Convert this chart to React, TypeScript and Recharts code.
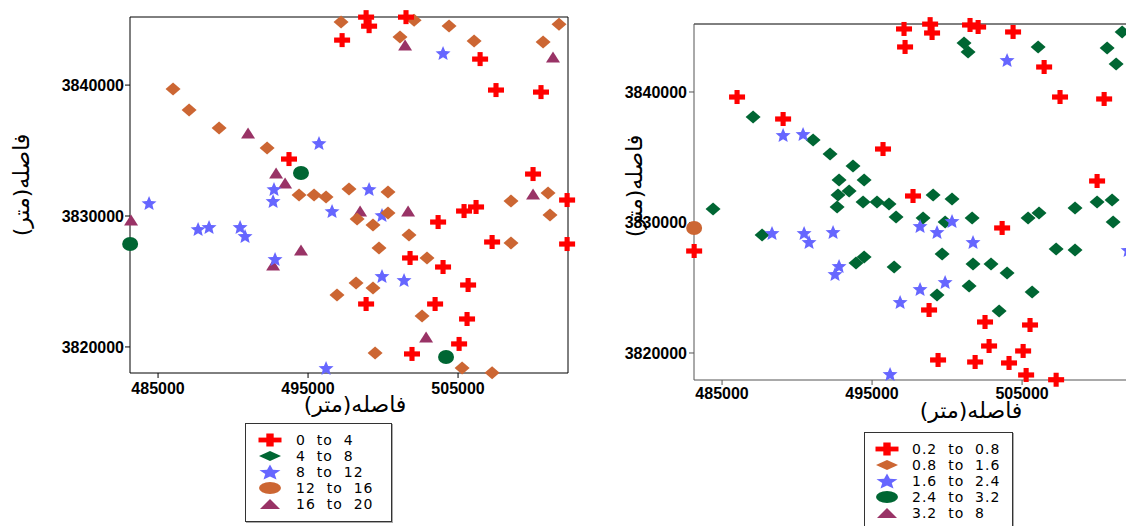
import React from "react"
import { ScatterChart, Scatter, XAxis, YAxis } from "recharts"

type P = [number, number]
const toPts = (a: P[]) => a.map(([x, y]) => ({ x, y }))

// ---- left map (classes 0..20) ----
const LEFT_RED: P[] = [
  [497270, 3843435], [498870, 3845190], [499070, 3844500], [501530, 3845190], [506470, 3841985],
  [507530, 3839620], [510530, 3839465], [510000, 3833205], [512270, 3831220], [505400, 3830380],
  [506200, 3830690], [493730, 3834350], [503670, 3829540], [507270, 3828015], [512270, 3827860],
  [501800, 3826795], [504000, 3826105], [505670, 3824730], [498870, 3823280], [503470, 3823280],
  [505600, 3822135], [505070, 3820230], [501930, 3819465],
]
const LEFT_ORANGE: P[] = [
  [486000, 3839695], [487070, 3838090], [489070, 3836715], [492270, 3835190], [494400, 3831605],
  [495400, 3831605], [496200, 3831450], [497200, 3844810], [497730, 3832060], [500330, 3831830],
  [502070, 3844960], [504400, 3844505], [501130, 3843665], [506070, 3843360], [511730, 3844655],
  [510670, 3843285], [508530, 3831145], [511000, 3831755], [511130, 3830075], [498270, 3829770],
  [499330, 3829310], [500330, 3830230], [501730, 3828550], [499730, 3827555], [502930, 3826795],
  [498200, 3824885], [499330, 3824505], [496930, 3823970], [502600, 3822365], [499470, 3819540],
  [505270, 3818395], [507270, 3818020], [508530, 3827940],
]
const LEFT_BLUE: P[] = [
  [484400, 3830990], [492730, 3832060], [492670, 3831145], [504000, 3842445], [495730, 3835570],
  [499070, 3832060], [496600, 3830380], [499930, 3830075], [487670, 3829005], [488400, 3829160],
  [490470, 3829160], [490800, 3828475], [492800, 3826715], [499930, 3825420], [501400, 3825115],
  [496200, 3818395],
]
const LEFT_PURPLE: P[] = [
  [491000, 3836335], [492870, 3833280], [493470, 3832520], [501470, 3843055], [511330, 3842140],
  [498470, 3830380], [501670, 3830380], [510000, 3831680], [483200, 3829695], [492670, 3826260],
  [494530, 3827405], [502870, 3820760],
]
const LEFT_GREEN: P[] = [[494530, 3833280], [483140, 3827860], [504200, 3819235]]

// ---- right map (classes 0.2..8) ----
const RIGHT_RED: P[] = [
  [486000, 3839615], [489070, 3837930], [497130, 3844830], [497200, 3843450], [498870, 3845200],
  [499000, 3844520], [501530, 3845135], [502070, 3844980], [504400, 3844600], [506470, 3841915],
  [507530, 3839615], [510470, 3839465], [495730, 3835630], [510000, 3833180], [497730, 3832030],
  [483140, 3827815], [503670, 3829580], [498800, 3823295], [502530, 3822375], [505530, 3822145],
  [502800, 3820535], [505070, 3820155], [499400, 3819465], [501870, 3819310], [504130, 3819235],
  [505270, 3818315], [507270, 3817950],
]
const RIGHT_GREEN: P[] = [
  [487070, 3838085], [491070, 3836320], [492200, 3835250], [493730, 3834330], [492800, 3833255],
  [494470, 3833255], [493470, 3832415], [492730, 3832105], [492670, 3831190], [494400, 3831570],
  [484400, 3831035], [501130, 3843755], [501400, 3843065], [506070, 3843450], [510670, 3843370],
  [511270, 3842145], [511670, 3844600], [495330, 3831570], [496130, 3831415], [499070, 3832105],
  [500330, 3831800], [508530, 3831110], [510000, 3831570], [511000, 3831725], [496600, 3830420],
  [498400, 3830345], [501670, 3830345], [505400, 3830345], [506130, 3830730], [511070, 3830040],
  [487670, 3829040], [493930, 3826895], [494470, 3827355], [499870, 3830040], [496470, 3826590],
  [499670, 3827585], [501730, 3826820], [502930, 3826820], [504000, 3826130], [507270, 3827970],
  [508530, 3827890], [499330, 3824445], [501470, 3825135], [505670, 3824675], [503470, 3823220],
]
const RIGHT_BLUE: P[] = [
  [489070, 3836705], [490400, 3836780], [504000, 3842450], [488330, 3829195], [490470, 3829195],
  [490800, 3828505], [492400, 3829270], [492800, 3826665], [492530, 3826055], [498200, 3829730],
  [499330, 3829270], [500330, 3830115], [501730, 3828505], [498200, 3824905], [499870, 3825440],
  [496870, 3823910], [496200, 3818390], [512070, 3827890],
]
const RIGHT_ORANGE: P[] = [[483140, 3829580]]

const X_TICKS = [485000, 495000, 505000]
const X_MINOR = [485000, 490000, 495000, 500000, 505000, 510000]
const Y_TICKS = [3820000, 3830000, 3840000]
const Y_MINOR = [3820000, 3825000, 3830000, 3835000, 3840000, 3845000]

const LEFT_CLASSES = ["0  to  4", "4  to  8", "8  to  12", "12  to  16", "16  to  20"]
const RIGHT_CLASSES = ["0.2  to  0.8", "0.8  to  1.6", "1.6  to  2.4", "2.4  to  3.2", "3.2  to  8"]
const AXIS_TITLE = "فاصله(متر)"

const RED = "#ff0000"
const GREEN = "#006633"
const ORANGE = "#cc6633"
const BLUE = "#6666ff"
const PURPLE = "#993366"

type S = { cx: number; cy: number; w: number; h: number; fill: string }

const Cross = ({ cx, cy, w, h, fill }: S) => {
  const tv = w * 0.16
  const th = h * 0.185
  return (
    <g fill={fill}>
      <rect x={cx - w / 2} y={cy - th} width={w} height={th * 2} />
      <rect x={cx - tv} y={cy - h / 2} width={tv * 2} height={h} />
    </g>
  )
}
const Diamond = ({ cx, cy, w, h, fill }: S) => (
  <polygon points={`${cx},${cy - h / 2} ${cx + w / 2},${cy} ${cx},${cy + h / 2} ${cx - w / 2},${cy}`} fill={fill} />
)
const Star = ({ cx, cy, w, h, fill }: S) => {
  const sx = w / 1.902
  const sy = h / 1.809
  const oy = cy + 0.095 * sy
  const pts: string[] = []
  for (let i = 0; i < 10; i++) {
    const r = i % 2 ? 0.45 : 1
    const a = ((-90 + i * 36) * Math.PI) / 180
    pts.push(`${cx + Math.cos(a) * r * sx},${oy + Math.sin(a) * r * sy}`)
  }
  return <polygon points={pts.join(" ")} fill={fill} />
}
const Tri = ({ cx, cy, w, h, fill }: S) => (
  <polygon points={`${cx - w / 2},${cy + h / 2} ${cx + w / 2},${cy + h / 2} ${cx},${cy - h / 2}`} fill={fill} />
)
const Oval = ({ cx, cy, w, h, fill }: S) => <ellipse cx={cx} cy={cy} rx={w / 2} ry={h / 2} fill={fill} />

const mark = (C: (s: S) => JSX.Element, fill: string, w: number, h: number) => (p: any) => (
  <C cx={p.cx} cy={p.cy} w={w} h={h} fill={fill} />
)

const tickFont = { fill: "#000", fontSize: 16, fontWeight: 700, fontFamily: "Liberation Sans, Arial, sans-serif" }

const xTitle = (dx: number, dy: number) => (p: any) => {
  const vb = p.viewBox
  return (
    <text x={vb.x + vb.width / 2 + dx} y={vb.y + dy} textAnchor="middle" direction="rtl"
      fontSize={22} fontFamily="DejaVu Sans" fill="#000">{AXIS_TITLE}</text>
  )
}
const yTitle = (dx: number, dy: number) => (p: any) => {
  const vb = p.viewBox
  const cx = vb.x + dx
  const cy = vb.y + vb.height / 2 + dy
  return (
    <text x={cx} y={cy} transform={`rotate(-90 ${cx} ${cy})`} textAnchor="middle" direction="rtl"
      fontSize={22} fontFamily="DejaVu Sans" fill="#000">{AXIS_TITLE}</text>
  )
}

function LeftMap() {
  const xd: [number, number] = [483130, 512330]
  const yd: [number, number] = [3818010, 3845200]
  return (
    <ScatterChart width={600} height={420} margin={{ top: 16, right: 31, bottom: 7, left: 30 }}>
      <XAxis xAxisId="b" type="number" dataKey="x" domain={xd} ticks={X_TICKS} interval={0}
        height={40} tickSize={5} tickMargin={5} tick={tickFont} stroke="#000" label={xTitle(6, 39)} />
      <XAxis xAxisId="t" orientation="top" type="number" dataKey="x" domain={xd} ticks={X_MINOR} interval={0}
        height={1} tickSize={4} tick={false} stroke="#000" />
      <YAxis yAxisId="l" type="number" dataKey="y" domain={yd} ticks={Y_TICKS} interval={0}
        width={100} tickSize={5} tickMargin={1} tick={tickFont} stroke="#000" label={yTitle(-1, -10)} />
      <YAxis yAxisId="r" orientation="right" type="number" dataKey="y" domain={yd} ticks={Y_MINOR} interval={0}
        width={1} tickSize={5} tick={false} stroke="#000" />
      <Scatter xAxisId="b" yAxisId="l" data={toPts(LEFT_PURPLE)} shape={mark(Tri, PURPLE, 14, 11)} isAnimationActive={false} />
      <Scatter xAxisId="b" yAxisId="l" data={toPts(LEFT_BLUE)} shape={mark(Star, BLUE, 15, 14)} isAnimationActive={false} />
      <Scatter xAxisId="b" yAxisId="l" data={toPts(LEFT_ORANGE)} shape={mark(Diamond, ORANGE, 15, 13)} isAnimationActive={false} />
      <Scatter xAxisId="b" yAxisId="l" data={toPts(LEFT_RED)} shape={mark(Cross, RED, 16, 14)} isAnimationActive={false} />
      <Scatter xAxisId="t" yAxisId="r" data={toPts(LEFT_GREEN)} shape={mark(Oval, GREEN, 16, 14)} isAnimationActive={false} />
    </ScatterChart>
  )
}

function RightMap() {
  const xd: [number, number] = [483130, 520060]
  const yd: [number, number] = [3817930, 3845210]
  return (
    <ScatterChart width={716} height={420} margin={{ top: 16, right: 32, bottom: 7, left: 30 }}>
      <XAxis xAxisId="b" type="number" dataKey="x" domain={xd} ticks={X_TICKS} interval={0}
        height={40} tickSize={5} tickMargin={3} tick={tickFont} stroke="#555" label={xTitle(0, 38)} />
      <XAxis xAxisId="t" orientation="top" type="number" dataKey="x" domain={xd} ticks={X_MINOR} interval={0}
        height={1} tickSize={4} tick={false} stroke="#000" />
      <YAxis yAxisId="l" type="number" dataKey="y" domain={yd} ticks={Y_TICKS} interval={0}
        width={100} tickSize={5} tickMargin={2} tick={tickFont} stroke="#555" label={yTitle(48, -16)} />
      <Scatter xAxisId="b" yAxisId="l" data={toPts(RIGHT_GREEN)} shape={mark(Diamond, GREEN, 15, 13)} isAnimationActive={false} />
      <Scatter xAxisId="b" yAxisId="l" data={toPts(RIGHT_BLUE)} shape={mark(Star, BLUE, 15, 14)} isAnimationActive={false} />
      <Scatter xAxisId="b" yAxisId="l" data={toPts(RIGHT_RED)} shape={mark(Cross, RED, 16, 14)} isAnimationActive={false} />
      <Scatter xAxisId="t" yAxisId="l" data={toPts(RIGHT_ORANGE)} shape={mark(Oval, ORANGE, 16, 14)} isAnimationActive={false} />
    </ScatterChart>
  )
}

type LegendProps = {
  left: number; top: number; width: number; height: number
  iconX: number; textX: number; labels: string[]; icons: [typeof Cross, string][]
}

function LegendBox({ left, top, width, height, iconX, textX, labels, icons }: LegendProps) {
  const sizes = [[23, 13], [22, 10], [21, 15], [22, 12], [20, 10]]
  return (
    <div style={{
      position: "absolute", left, top, width, height, border: "1px solid #333",
      boxShadow: "1px 1px 0 #aaa", background: "#fff", boxSizing: "border-box",
    }}>
      <svg width={width} height={height} style={{ position: "absolute", left: -1, top: -1 }}>
        {labels.map((lab, i) => {
          const [C, fill] = icons[i]
          const cy = 17 + i * 16
          return (
            <g key={lab}>
              <C cx={iconX} cy={cy} w={sizes[i][0]} h={sizes[i][1]} fill={fill} />
              <text x={textX} y={cy + 5} fontSize={14} letterSpacing={1} fontFamily="DejaVu Sans"
                fill="#000" style={{ whiteSpace: "pre" }}>{lab}</text>
            </g>
          )
        })}
      </svg>
    </div>
  )
}

export default function App() {
  return (
    <div style={{ position: "absolute", left: 0, top: 0, width: 1126, height: 526, overflow: "hidden", background: "#fff" }}>
      <div style={{ position: "absolute", left: 0, top: 0 }}>
        <LeftMap />
      </div>
      <div style={{ position: "absolute", left: 564, top: 7 }}>
        <RightMap />
      </div>
      <LegendBox left={245} top={423} width={147} height={99} iconX={25} textX={51} labels={LEFT_CLASSES}
        icons={[[Cross, RED], [Diamond, GREEN], [Star, BLUE], [Oval, ORANGE], [Tri, PURPLE]]} />
      <LegendBox left={864} top={432} width={149} height={100} iconX={23} textX={48} labels={RIGHT_CLASSES}
        icons={[[Cross, RED], [Diamond, ORANGE], [Star, BLUE], [Oval, GREEN], [Tri, PURPLE]]} />
    </div>
  )
}
